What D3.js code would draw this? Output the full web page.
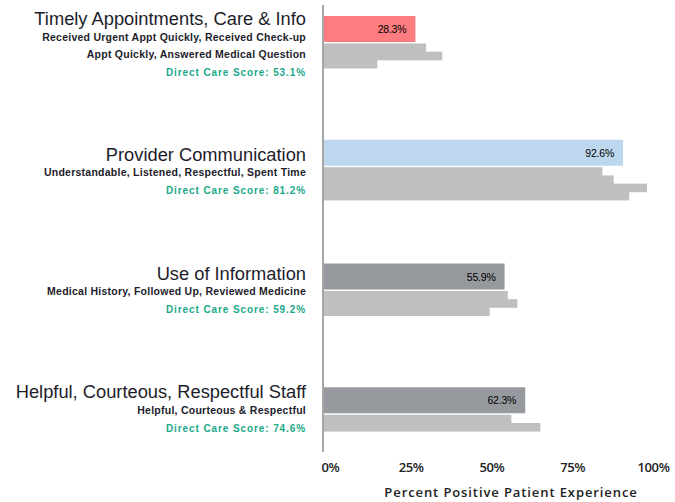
<!DOCTYPE html>
<html>
<head>
<meta charset="utf-8">
<script src="https://cdn.jsdelivr.net/npm/d3@7"></script>
<style>
  html, body { margin: 0; padding: 0; background: #fff; }
  svg { display: block; }
</style>
</head>
<body>
<div id="chart"></div>
<script>
// 数据
const categories = [
    "Timely Appointments, Care & Info",
    "Provider Communication",
    "Use of Information",
    "Helpful, Courteous, Respectful Staff"
];
const subtitles = [
    ["Received Urgent Appt Quickly, Received Check-up", "Appt Quickly, Answered Medical Question"],
    ["Understandable, Listened, Respectful, Spent Time"],
    ["Medical History, Followed Up, Reviewed Medicine"],
    ["Helpful, Courteous & Respectful"]
];
const compositeScores = [28.3, 92.6, 55.9, 62.3];
const itemScores = [
    [31.6, 36.6, 16.5],
    [86.2, 89.7, 100, 94.5],
    [56.9, 59.9, 51.3],
    [58.0, 67.0]
];
const directCareScores = [53.1, 81.2, 59.2, 74.6];
const tickValues = [0, 25, 50, 75, 100];

// 样式
const mainColors = ["#ff7c80", "#bdd7ee", "#96999e", "#96999e"];
const itemColor = "#bfbfbf";
const greenColor = "#1aa98a";
const titleOffsets = [9, 21, 16, 11];  // 标题基线相对柱顶

const width = 675, height = 502;

const svg = d3.select("#chart").append("svg")
    .attr("width", width)
    .attr("height", height);

const x = d3.scaleLinear().domain([0, 100]).range([324, 647]);
const y = d3.scaleBand().domain(categories).range([16, 511]);

const mainH = 26;
const itemStep = 8.2;

// 纵轴线
svg.append("line")
    .attr("x1", 323).attr("x2", 323)
    .attr("y1", 5).attr("y2", 452)
    .style("stroke", "#a6a6a6")
    .style("stroke-width", 2);

const group = svg.selectAll(".cat")
    .data(categories)
    .join("g")
    .attr("class", "cat");

// 主柱
group.append("rect")
    .attr("x", x(0))
    .attr("y", d => y(d))
    .attr("width", (d, i) => x(compositeScores[i]) - x(0))
    .attr("height", mainH)
    .style("fill", (d, i) => mainColors[i]);

group.append("text")
    .attr("x", (d, i) => x(compositeScores[i]) - 9)
    .attr("y", d => y(d) + mainH / 2 + 4)
    .attr("text-anchor", "end")
    .style("font-family", "'Liberation Sans', Arial, sans-serif")
    .style("font-size", "10.5px")
    .style("letter-spacing", "-0.2px")
    .style("fill", "#000")
    .text((d, i) => compositeScores[i].toFixed(1) + "%");

// 分项柱
group.each(function (d, i) {
    d3.select(this).selectAll(".item")
        .data(itemScores[i])
        .join("rect")
        .attr("class", "item")
        .attr("x", x(0))
        .attr("y", (v, j) => y(d) + mainH + 1.5 + j * itemStep)
        .attr("width", v => x(v) - x(0))
        .attr("height", itemStep + 0.4)
        .style("fill", itemColor);
});

// 左侧文字
const textX = 306;
group.each(function (d, i) {
    const g = d3.select(this);
    let ty = y(d) + titleOffsets[i];
    g.append("text")
        .attr("x", textX).attr("y", ty)
        .attr("text-anchor", "end")
        .style("font-family", "'Liberation Sans', Arial, sans-serif")
        .style("font-size", "18.3px")
        .style("fill", "#1d1d2b")
        .text(d);
    ty += 15.5;
    subtitles[i].forEach(s => {
        g.append("text")
            .attr("x", textX).attr("y", ty)
            .attr("text-anchor", "end")
            .style("font-family", "'Liberation Sans', Arial, sans-serif")
            .style("font-size", "10.5px")
            .style("font-weight", "bold")
            .style("letter-spacing", "0.25px")
            .style("fill", "#1d1d2b")
            .text(s);
        ty += 17;
    });
    g.append("text")
        .attr("x", textX).attr("y", ty + 1)
        .attr("text-anchor", "end")
        .style("font-family", "'Liberation Sans', Arial, sans-serif")
        .style("font-size", "10px")
        .style("font-weight", "bold")
        .style("letter-spacing", "0.9px")
        .style("fill", greenColor)
        .text("Direct Care Score: " + directCareScores[i].toFixed(1) + "%");
});

// 横轴
const axis = svg.append("g")
    .attr("transform", "translate(6, 460)")
    .call(d3.axisBottom(x).tickValues(tickValues).tickSize(0).tickPadding(3)
        .tickFormat(d => d + "%"));
axis.select(".domain").remove();
axis.selectAll("text")
    .style("font-family", "'Open Sans', sans-serif")
    .style("font-size", "13px")
    .style("font-weight", "600")
    .style("letter-spacing", "-0.4px")
    .style("fill", "#222");

svg.append("text")
    .attr("x", 511)
    .attr("y", 497)
    .attr("text-anchor", "middle")
    .style("font-family", "'Open Sans', sans-serif")
    .style("font-size", "13px")
    .style("font-weight", "600")
    .style("letter-spacing", "0.9px")
    .style("fill", "#222")
    .text("Percent Positive Patient Experience");
</script>
</body>
</html>
